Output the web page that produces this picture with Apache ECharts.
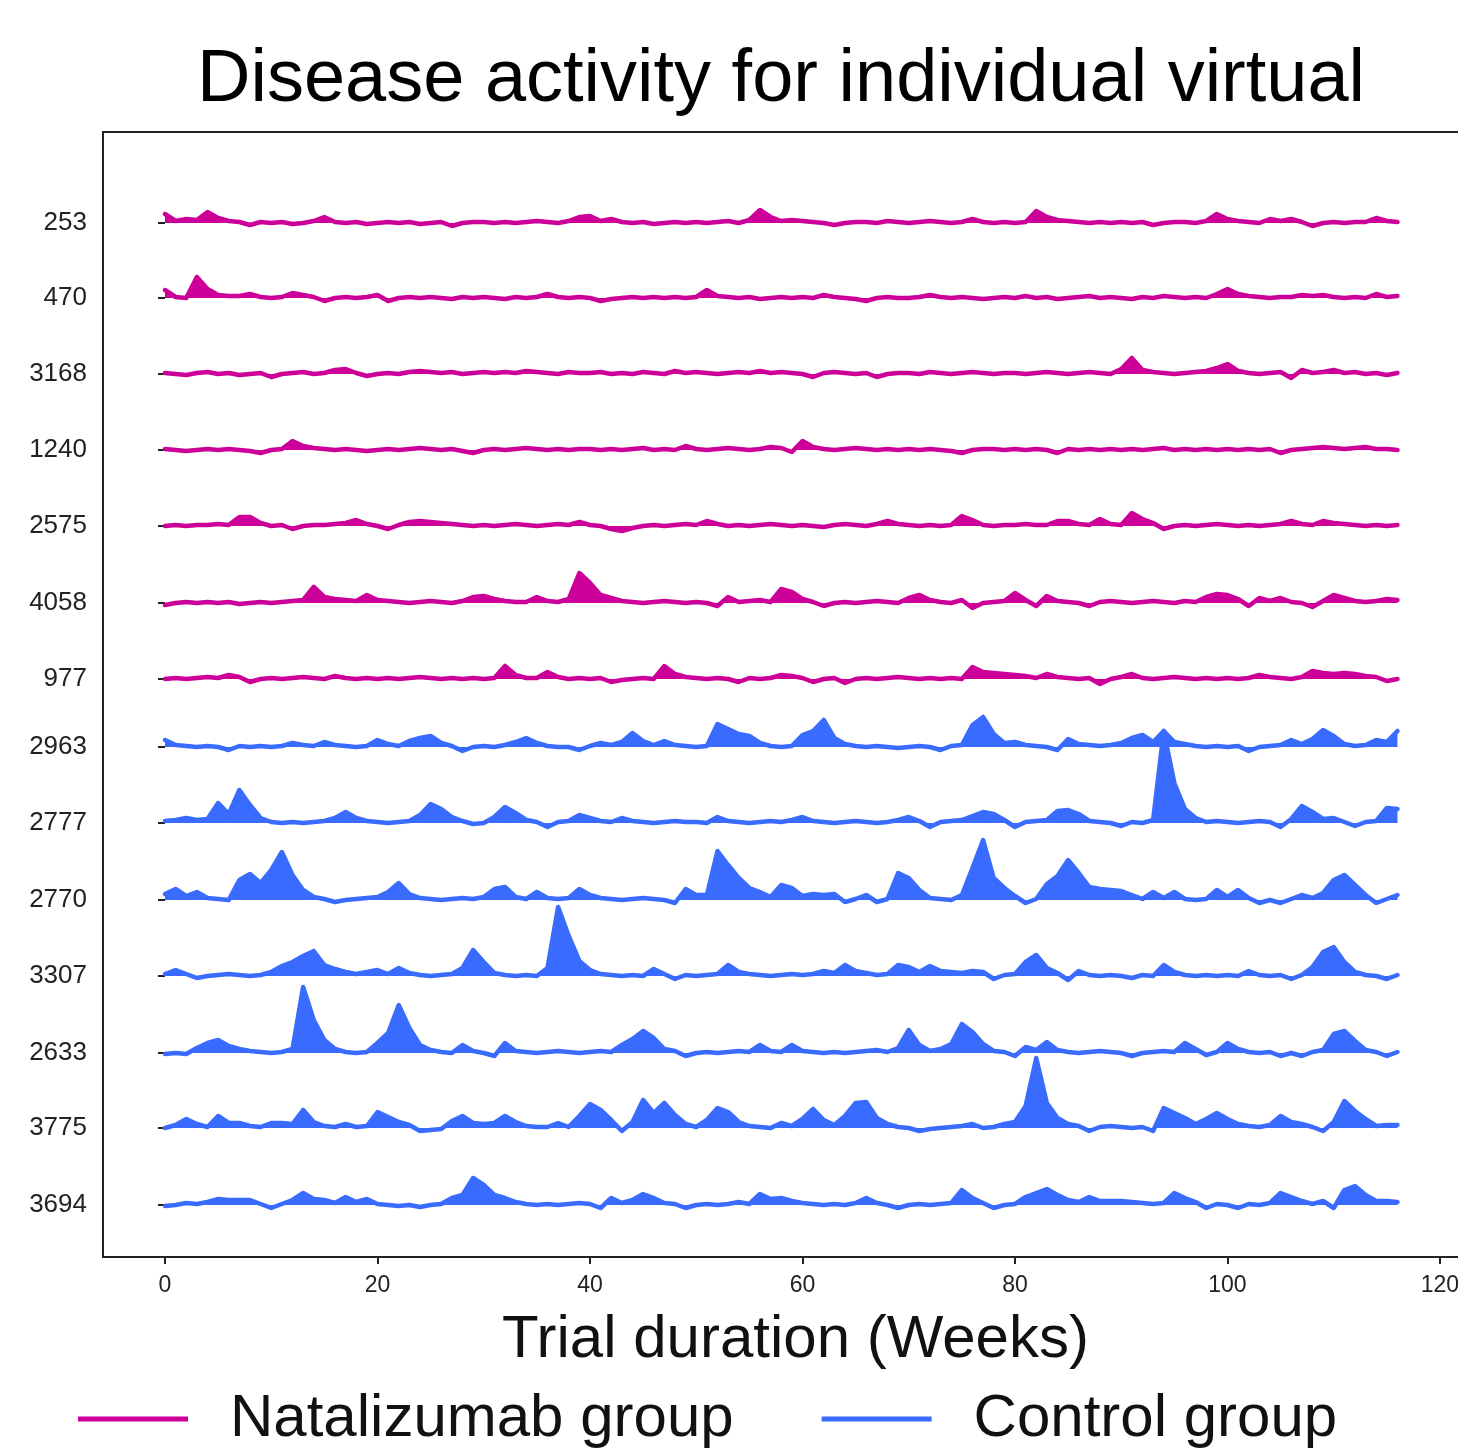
<!DOCTYPE html>
<html><head><meta charset="utf-8">
<script src="https://cdn.jsdelivr.net/npm/echarts@6/dist/echarts.min.js"></script>
<style>html,body{margin:0;padding:0;background:#fff;overflow:hidden}#c{width:1458px;height:1449px}</style>
</head><body><div id="c"></div>
<script>
// ---- data (weekly samples, weeks 0..116; values = activity above row baseline) ----
const weeks = Array.from({length:117}, (_, i) => i);
const xTicks = [0, 20, 40, 60, 80, 100, 120];
const rowLabels = ['253','470','3168','1240','2575','4058','977','2963','2777','2770','3307','2633','3775','3694'];
const rowGroups = ['Natalizumab group','Natalizumab group','Natalizumab group','Natalizumab group','Natalizumab group','Natalizumab group','Natalizumab group',
  'Control group','Control group','Control group','Control group','Control group','Control group','Control group'];
const rowOffsets = [1034, 959, 883, 807, 731, 654, 578, 510, 434, 357, 281, 204, 129, 52];

const r253 = [9,2,4,3,11,5,2,1,-2,1, 0,1,-1,0,2,6,1,0,1,-1, 0,1,0,1,-1,0,1,-3,0,1, 1,0,1,0,1,2,1,0,2,6,
 7,2,4,1,0,1,-1,0,1,0, 1,0,1,2,0,3,13,6,2,3, 2,1,0,-2,0,1,1,0,2,1, 0,1,2,1,0,1,4,1,0,1,
 0,1,12,6,3,2,1,0,1,0, 1,0,1,-2,0,1,1,0,2,9, 4,2,1,0,4,2,4,1,-3,0, 1,0,1,1,5,2,1];
const r470 = [8,1,0,21,9,3,2,2,4,1, 0,1,5,3,1,-3,0,1,0,1, 3,-3,0,1,0,1,0,-1,1,0, 1,0,-1,1,0,1,4,1,0,1,
 0,-3,-1,0,1,0,1,0,1,0, 1,8,2,1,0,1,-1,0,1,0, 1,0,3,1,0,-1,-3,0,1,0, 0,1,3,1,0,1,0,-1,0,1,
 0,2,0,1,-1,0,1,2,0,1, 0,-1,1,0,2,1,0,1,0,4, 9,4,2,1,0,1,1,3,2,3, 1,0,1,0,4,1,2];
const r3168 = [1,0,-1,1,2,0,1,-1,0,1, -3,0,1,2,0,1,4,5,1,-2, 0,1,0,2,3,2,1,2,0,1, 2,1,2,1,3,2,1,0,2,1,
 1,2,0,1,0,2,1,0,3,1, 2,1,0,1,2,1,3,1,2,1, 0,-3,1,2,1,0,1,-3,0,1, 1,0,2,1,0,1,2,1,0,1,
 1,0,1,2,1,0,1,2,1,0, 5,16,4,2,1,0,1,2,3,6, 10,3,1,0,1,2,-4,4,1,2, 4,1,2,0,1,-1,1];
const r1240 = [1,0,-1,0,1,0,1,0,-1,-3, 0,1,9,4,2,1,0,1,0,-1, 0,1,0,1,2,1,0,1,-1,-3, 0,1,0,1,2,1,0,1,0,1,
 1,0,1,0,1,2,0,1,0,4, 1,0,1,2,1,0,1,3,2,-2, 9,3,1,0,1,2,1,0,1,0, 1,0,1,0,-1,-3,0,1,1,0,
 1,0,1,0,-3,1,0,1,0,1, 0,1,0,1,2,0,1,0,1,0, 1,0,1,0,1,-3,0,1,2,3, 2,1,2,3,1,1,0];
const r2575 = [0,1,0,1,1,2,1,9,9,3, 0,1,-3,0,1,1,2,3,6,2, 0,-3,1,4,5,4,3,2,1,0, 1,0,1,2,1,0,1,2,1,4,
 1,0,-3,-5,-2,0,1,0,1,2, 1,5,2,0,1,0,1,2,1,0, 1,0,-1,1,2,1,0,2,5,2, 1,0,1,0,1,10,6,1,0,1,
 1,2,1,1,5,5,2,1,7,2, 1,13,7,3,-3,0,1,0,1,2, 1,0,1,0,1,2,5,2,1,5, 3,2,1,0,1,0,1];
const r4058 = [-2,0,1,0,1,0,1,-1,0,1, 0,1,2,3,16,6,4,3,2,8, 3,2,1,0,1,2,1,0,2,6, 7,4,2,1,1,6,2,1,4,30,
 20,8,5,2,1,0,1,2,1,0, 1,0,-3,6,1,2,3,1,14,11, 4,1,-3,0,1,0,1,2,1,0, 5,8,3,1,0,3,-5,0,1,2,
 10,3,-3,7,2,1,0,-3,1,2, 1,0,1,2,1,0,2,1,6,9, 8,4,-3,5,2,5,1,0,-4,2, 8,5,2,1,2,4,3];
const r977 = [0,1,0,1,2,1,4,2,-3,0, 1,0,1,2,1,0,3,1,0,1, 0,1,0,1,2,1,0,1,0,1, 0,1,13,4,1,1,7,2,0,1,
 0,1,-3,-1,0,1,0,13,5,2, 1,0,1,0,-3,1,0,1,4,3, 1,-3,0,1,-4,0,1,0,1,2, 1,0,1,0,1,0,12,7,6,5,
 4,3,1,5,2,1,0,1,-5,0, 2,5,1,0,1,2,1,0,1,0, 1,0,1,4,2,1,0,2,8,6, 5,6,5,3,2,-2,0];
const r2963 = [7,2,1,0,1,0,-3,1,0,1, 0,1,4,2,1,5,2,1,0,1, 7,3,1,6,9,11,4,1,-4,0, 1,0,2,5,9,4,1,0,0,-3,
 1,4,2,5,14,6,2,6,2,1, 0,1,23,18,13,11,4,1,0,1, 12,16,27,9,3,1,0,1,0,-1, 0,1,0,-3,1,2,22,30,13,4,
 5,2,1,0,-3,8,3,2,1,2, 4,9,12,5,16,5,3,1,0,1, 0,1,-4,0,1,2,7,3,8,17, 11,3,1,2,7,5,16];
const r2777 = [2,3,5,3,4,20,9,33,18,5, 1,0,1,0,1,2,5,11,5,2, 1,0,1,2,8,19,14,6,2,-1, 0,6,16,10,3,1,-4,1,2,8,
 5,2,1,5,2,1,0,1,2,1, 1,0,6,2,1,0,1,2,1,3, 6,2,1,0,1,2,1,0,1,3, 6,2,-4,1,2,3,7,11,9,3,
 -4,1,2,3,12,13,9,2,1,0, -3,1,0,3,92,40,14,5,1,2, 1,0,1,2,1,-4,4,17,11,4, 5,1,-3,1,2,15,14];
const r2770 = [6,11,4,8,2,1,0,20,26,17, 30,48,25,10,3,1,-2,0,1,2, 3,8,17,6,2,1,0,1,2,1, 3,11,13,3,1,8,2,1,2,11,
 5,2,1,0,1,2,1,0,-3,11, 5,5,49,35,22,12,8,3,15,12, 4,6,5,6,-2,1,5,-2,1,27, 22,10,2,1,0,5,32,60,22,12,
 4,-3,1,16,24,40,27,13,11,10, 9,5,1,8,2,8,1,0,1,10, 3,10,2,-3,0,-3,1,5,2,7, 20,25,15,5,-3,1,5];
const r3307 = [2,6,2,-2,0,1,2,1,0,1, 4,10,14,20,25,11,7,4,2,4, 6,2,8,3,1,0,1,2,8,26, 14,3,1,0,1,0,8,69,40,15,
 6,2,1,0,1,0,7,2,-3,1, 0,1,2,11,4,2,1,0,1,2, 1,2,5,3,11,5,3,1,2,11, 9,4,10,5,4,3,5,4,-3,1,
 2,14,21,8,3,-4,5,1,0,1, 0,-2,1,0,11,4,1,0,1,0, 1,0,5,1,0,1,-3,1,9,24, 29,14,4,1,0,-3,1];
const r2633 = [-1,0,-1,5,10,13,7,4,2,1, 0,1,4,66,33,13,4,1,0,1, 10,20,48,25,8,3,1,0,8,2, 0,-3,10,2,1,0,1,2,1,0,
 1,2,1,8,14,22,15,4,2,-3, 0,1,0,1,2,1,8,2,1,8, 2,1,0,1,0,1,2,3,1,5, 23,8,2,4,9,29,21,9,2,1,
 -3,6,3,11,3,1,0,1,2,1, 0,-3,0,1,2,1,10,4,-2,1, 10,4,1,0,1,-3,0,-3,1,3, 19,22,12,3,1,-3,1];
const r3775 = [0,3,9,4,1,12,5,5,2,1, 5,5,4,18,6,2,1,4,1,2, 16,11,6,3,-3,-2,-1,7,12,5, 4,5,12,6,2,1,1,5,1,12,
 24,18,8,-3,6,28,15,25,13,4, 1,8,20,16,6,2,1,0,5,2, 9,19,8,3,12,25,26,10,4,1, 0,-3,-1,0,1,2,4,0,1,4,
 6,22,70,25,10,4,2,-3,1,2, 1,0,1,-3,20,15,10,4,9,15, 9,4,2,1,3,12,6,4,1,-3, 6,27,17,9,2,3,3];
const r3694 = [-1,0,2,1,3,6,5,5,5,1, -3,1,5,12,6,5,2,8,3,6, 1,0,-1,0,-2,0,1,7,10,27, 20,10,7,3,1,0,1,0,1,2,
 1,-3,7,2,5,11,7,2,1,-3, 0,1,0,1,3,1,11,6,7,4, 2,1,0,1,0,2,7,2,0,-3, 0,1,0,1,2,15,7,2,-3,0,
 1,8,12,16,10,5,3,8,4,4, 4,3,2,1,2,12,7,3,-3,1, 0,-3,1,0,2,12,8,4,1,4, -3,15,19,10,4,4,3];

const rowValues = [r253, r470, r3168, r1240, r2575, r4058, r977, r2963, r2777, r2770, r3307, r2633, r3775, r3694];
rowValues.forEach((a, i) => { if (a.length !== weeks.length) throw new Error('row ' + rowLabels[i] + ' has ' + a.length); });

// ---- styles ----
const COLORS = {'Natalizumab group': '#CC0099', 'Control group': '#3A6BFF'};
const FONT = 'Liberation Sans, Arial, sans-serif';

const series = rowValues.map((vals, i) => {
  const off = rowOffsets[i];
  const col = COLORS[rowGroups[i]];
  return {
    type: 'line',
    name: rowGroups[i],
    data: vals.map((v, k) => [weeks[k], off + v]),
    showSymbol: false,
    symbol: 'none',
    silent: true,
    lineStyle: {color: col, width: 4.5, join: 'round', cap: 'round'},
    itemStyle: {color: col},
    areaStyle: {color: col, opacity: 1, origin: off},
    z: 2 + i
  };
});

const labelByOffset = {};
rowOffsets.forEach((o, i) => { labelByOffset[o] = rowLabels[i]; });

const chart = echarts.init(document.getElementById('c'), null, {renderer: 'canvas'});
chart.setOption({
  animation: false,
  backgroundColor: '#fff',
  title: {
    text: 'Disease activity for individual virtual',
    left: 192, top: 39,
    textStyle: {fontFamily: FONT, fontSize: 74, fontWeight: 'normal', color: '#000'}
  },
  legend: {
    left: 73, top: 1384,
    itemWidth: 110, itemHeight: 5, itemGap: 88,
    icon: 'rect',
    data: ['Natalizumab group', 'Control group'],
    textStyle: {fontFamily: FONT, fontSize: 60, color: '#111', padding: [0, 0, 0, 37]}
  },
  grid: {left: 103, width: 1358, top: 132, bottom: 192, show: true, borderColor: '#222', borderWidth: 2,
    outerBoundsMode: 'none', containLabel: false},
  xAxis: {
    type: 'value', min: -5.835, max: 121.98,
    name: 'Trial duration (Weeks)', nameLocation: 'middle', nameGap: 53,
    nameTextStyle: {fontFamily: FONT, fontSize: 60, color: '#111', padding: [0, 0, 0, 27]},
    axisLine: {show: false},
    splitLine: {show: false},
    axisTick: {show: true, customValues: xTicks, length: 7, lineStyle: {color: '#222', width: 2}},
    axisLabel: {customValues: xTicks, fontFamily: FONT, fontSize: 23, color: '#222', margin: 17}
  },
  yAxis: {
    type: 'value', min: 0, max: 1125,
    axisLine: {show: false},
    splitLine: {show: false},
    axisTick: {show: true, customValues: rowOffsets, length: 7, lineStyle: {color: '#222', width: 2}},
    axisLabel: {customValues: rowOffsets, fontFamily: FONT, fontSize: 26, color: '#222', margin: 16,
      formatter: v => labelByOffset[v] || ''}
  },
  series: series
});
</script>
</body></html>
